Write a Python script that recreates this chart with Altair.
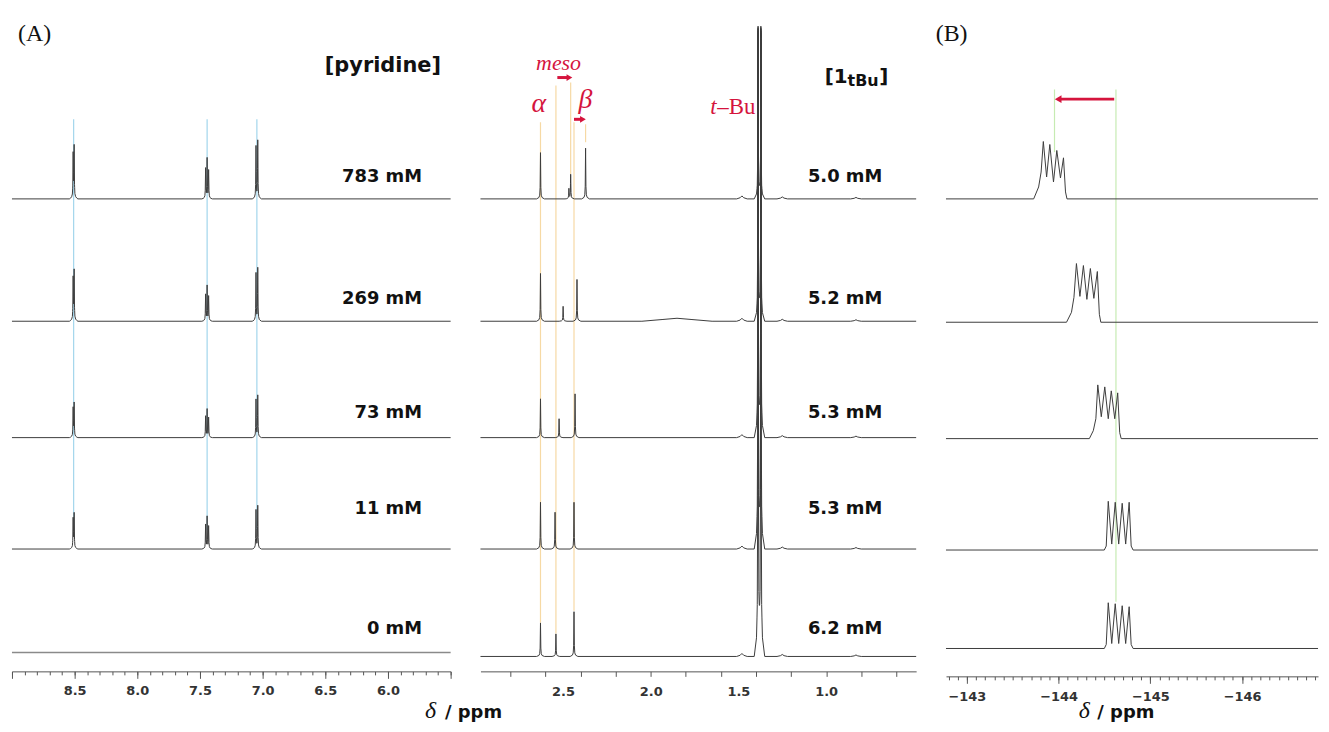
import altair as alt
import numpy as np
import pandas as pd

# ---------------- data ----------------
# Panel (A), left: pyridine 1H signals
pyr_conc = ["783 mM", "269 mM", "73 mM", "11 mM", "0 mM"]
pyr_base = [475, 352, 235, 123, 19]
pyr_shift = [8.508, 7.443, 7.046]
pyr_height = [[52, 40, 58], [50, 35, 53], [34, 28, 42], [35, 32, 43], [0, 0, 0]]
pyr_fine_offset = [[-0.004, 0.004], [-0.012, 0.0, 0.012], [-0.007, 0.007]]
pyr_fine_rel = [[1.0, 0.85], [0.7, 1.0, 0.75], [1.0, 0.9]]
pyr_guide_top = 555
pyr_guide_bottom = 142

# Panel (A), right: 1tBu signals
tbu_conc = ["5.0 mM", "5.2 mM", "5.3 mM", "5.3 mM", "6.2 mM"]
tbu_base = [475, 352, 235, 123, 15]
alpha_shift = [2.628, 2.628, 2.628, 2.628, 2.628]
alpha_height = [46.5, 48, 39, 47, 33.7]
meso_shift = [2.456, 2.499, 2.522, 2.545, 2.540]
meso_height = [24.5, 15, 19, 37, 22.7]
beta_shift = [2.371, 2.420, 2.431, 2.437, 2.437]
beta_height = [51, 42, 44, 47, 45]
tbu_shift = [1.388, 1.372]
tbu_top = 640
minor_shift = [2.466, 1.48, 1.25, 0.83]
minor_height = [[10, 3, 2, 1.5], [0, 3, 2, 1.5], [0, 3, 2, 1.5], [0, 3, 2, 1.5], [0, 3, 2, 1.5]]
hump_shift = [1.85]
hump_height = [[0], [3], [0], [0], [0]]
# orange guides: (shift, top, bottom)
orange_x = [2.628, 2.540, 2.437, 2.456, 2.371]
orange_top = [552, 589, 552, 592, 550]
orange_bottom = [49, 38, 61, 500, 532]

# Panel (B): 19F signals, vertices (shift, height above baseline)
f_base = [475, 351, 234, 122, 23]
f_shift = [
    [-143.728, -143.782, -143.809, -143.833, -143.869, -143.904, -143.944, -143.980, -144.020, -144.053, -144.075, -144.091],
    [-144.086, -144.140, -144.167, -144.194, -144.232, -144.270, -144.308, -144.346, -144.384, -144.422, -144.444, -144.460],
    [-144.335, -144.378, -144.406, -144.427, -144.465, -144.503, -144.541, -144.574, -144.612, -144.644, -144.666, -144.682],
    [-144.498, -144.519, -144.541, -144.579, -144.617, -144.655, -144.693, -144.731, -144.769, -144.791, -144.812],
    [-144.498, -144.519, -144.541, -144.579, -144.617, -144.655, -144.693, -144.731, -144.769, -144.791, -144.812],
]
f_height = [
    [0, 12, 27, 57.7, 22, 54.7, 17, 48.7, 21, 41.3, 7, 0],
    [0, 10, 25, 59, 26, 57, 23, 54, 24, 51, 8, 0],
    [0, 8, 20, 54, 22, 52, 20, 48, 20, 46, 6, 0],
    [0, 4, 49, 6, 48, 6, 47, 6, 48, 4, 0],
    [0, 4, 46, 5, 45, 5, 43, 5, 42, 4, 0],
]
green_x = [-143.955, -144.625]
green_top = [585, 585]
green_bottom = [522, 70]

# tick labels
pyr_tick_labels = [8.5, 8.0, 7.5, 7.0, 6.5, 6.0]
tbu_tick_labels = [2.5, 2.0, 1.5, 1.0]
f_tick_labels = [-143, -144, -145, -146]

# ---------------- styles ----------------
LINE = "#3c3c3c"
RED = "#d5143d"
BLUE = "#a2d6ec"
ORANGE = "#f6d9a4"
GREEN = "#c6ebb2"
SANS = "DejaVu Sans"
SERIF = "Liberation Serif"
H = 664

# lineshape templates (offset in ppm, fraction of height)
prof_a1 = ([-0.03, -0.012, -0.006, -0.003, 0, 0.003, 0.006, 0.012, 0.03],
           [0, 0.03, 0.08, 0.25, 1, 0.25, 0.08, 0.03, 0])
prof_a2 = ([-0.022, -0.009, -0.0045, -0.002, 0, 0.002, 0.0045, 0.009, 0.022],
           [0, 0.03, 0.08, 0.25, 1, 0.25, 0.08, 0.03, 0])
prof_minor = ([-0.03, -0.01, 0, 0.01, 0.03], [0, 0.4, 1, 0.4, 0])
prof_hump = ([-0.2, -0.08, 0, 0.08, 0.2], [0, 0.6, 1, 0.6, 0])


def build_line(peaks, base, lo, hi, sid):
    xs = {lo, hi}
    for p, h, prof in peaks:
        for o in prof[0]:
            xs.add(round(p + o, 5))
    xs = sorted(x for x in xs if lo <= x <= hi)
    rows = []
    for i, x in enumerate(xs):
        y = base
        for p, h, prof in peaks:
            y += h * float(np.interp(x - p, prof[0], prof[1], left=0, right=0))
        rows.append({"x": x, "y": y, "s": sid, "i": i})
    return rows


# ---------- panel A1 data ----------
A1_LO, A1_HI = 5.5, 9.0
rows = []
for k in range(5):
    peaks = []
    for j, p in enumerate(pyr_shift):
        for off, rel in zip(pyr_fine_offset[j], pyr_fine_rel[j]):
            if pyr_height[k][j] > 0:
                peaks.append((p + off, pyr_height[k][j] * rel, prof_a1))
    rows += build_line(peaks, pyr_base[k], A1_LO, A1_HI, k)
a1_lines = pd.DataFrame(rows)

# ---------- panel A2 data ----------
A2_LO, A2_HI = 0.487, 2.970
rows = []
for k in range(5):
    peaks = [(alpha_shift[k], alpha_height[k], prof_a2),
             (meso_shift[k], meso_height[k], prof_a2),
             (beta_shift[k], beta_height[k], prof_a2)]
    for t in tbu_shift:
        peaks.append((t, tbu_top - tbu_base[k], prof_a2))
    for m, mh in zip(minor_shift, minor_height[k]):
        if mh > 0:
            peaks.append((m, mh, prof_minor if m < 2.0 else prof_a2))
    for m, mh in zip(hump_shift, hump_height[k]):
        if mh > 0:
            peaks.append((m, mh, prof_hump))
    rows += build_line(peaks, tbu_base[k], A2_LO, A2_HI, k)
a2_lines = pd.DataFrame(rows)

# ---------- panel B data ----------
B_LO, B_HI = -146.828, -142.772
rows = []
for k in range(5):
    pts = [(B_HI, 0)] + list(zip(f_shift[k], f_height[k])) + [(B_LO, 0)]
    for i, (x, h) in enumerate(pts):
        rows.append({"x": x, "y": f_base[k] + h, "s": k, "i": i})
b_lines = pd.DataFrame(rows)


# ---------------- helpers ----------------
AXIS_BASE = dict(title=None, grid=False, orient="bottom", labelFont=SANS, labelFontWeight="bold",
                 labelFontSize=13, labelColor="#333333", labelOverlap=False, labelFlush=False,
                 domainColor="#555555", domainWidth=1, tickColor="#555555", tickWidth=1)


def minor_axis(values, size, offset=0):
    return alt.Axis(values=values, tickSize=size, labels=False, domain=True, ticks=True, offset=offset,
                    **AXIS_BASE)


def major_axis(values, size, fmt, offset=0, pad=6, ticks=True, labels=True):
    return alt.Axis(values=values, tickSize=size, labels=labels, domain=False, ticks=ticks, format=fmt,
                    labelPadding=pad, offset=offset, **AXIS_BASE)


yscale = alt.Scale(domain=[0, H])
Y = alt.Y("y:Q", scale=yscale, axis=None)


def X(scale, ax=None):
    return alt.X("x:Q", scale=scale, axis=ax)


def text_layer(df, xs, font, size, weight="normal", style="normal", align="left", baseline="middle",
               color="#111111", ax=None):
    return alt.Chart(df).mark_text(font=font, fontSize=size, fontWeight=weight, fontStyle=style,
                                   align=align, baseline=baseline, color=color).encode(
        x=X(xs, ax), y=Y, text="t:N")


def rules(xs_scale, xv, top, bottom, color, width=1.2):
    df = pd.DataFrame({"x": xv, "y": top, "y2": bottom})
    return alt.Chart(df).mark_rule(color=color, strokeWidth=width).encode(
        x=X(xs_scale), y=Y, y2="y2:Q")


def spectra(df, xs_scale, ax, color=LINE, width=1.0):
    return alt.Chart(df).mark_line(color=color, strokeWidth=width).encode(
        x=X(xs_scale, ax), y=Y, detail="s:N", order="i:Q")


# ---------------- panel A1 ----------------
xs1 = alt.Scale(domain=[A1_LO, A1_HI], reverse=True, nice=False, zero=False)
ticks1_minor = [round(5.5 + 0.1 * i, 1) for i in range(36)]
a1_main = spectra(a1_lines[a1_lines.s < 4], xs1, minor_axis(ticks1_minor, 3.5))
a1_zero = spectra(a1_lines[a1_lines.s == 4], xs1, None, color="#8a8a8a", width=1.6)
a1_guides = rules(xs1, pyr_shift, [pyr_guide_top] * 3, [pyr_guide_bottom] * 3, BLUE)
conc1 = pd.DataFrame({"x": [5.728] * 5, "y": [497, 374, 260, 163, 43], "t": pyr_conc})
a1_conc = text_layer(conc1, xs1, SANS, 18, weight="bold", align="right",
                     ax=major_axis([A1_HI, A1_LO], 7, ".1f", labels=False))
a1_head = text_layer(pd.DataFrame({"x": [5.577], "y": [608.5], "t": ["[pyridine]"]}), xs1, SANS, 21,
                     weight="bold", align="right")
a1_tag = text_layer(pd.DataFrame({"x": [8.952], "y": [641], "t": ["(A)"]}), xs1, SERIF, 24,
                    ax=major_axis(pyr_tick_labels, 7, ".1f"))
a1_delta = text_layer(pd.DataFrame({"x": [5.66], "y": [-47], "t": ["δ"]}), xs1, SERIF, 24,
                      style="italic", align="center", baseline="alphabetic")
a1_ppm = text_layer(pd.DataFrame({"x": [5.545], "y": [-47], "t": ["/ ppm"]}), xs1, SANS, 18,
                    weight="bold", baseline="alphabetic")
a1 = alt.layer(a1_guides, a1_main, a1_zero, a1_conc, a1_head, a1_tag, a1_delta, a1_ppm).resolve_axis(
    x="independent").properties(width=441, height=H)

# ---------------- panel A2 ----------------
xs2 = alt.Scale(domain=[A2_LO, A2_HI], reverse=True, nice=False, zero=False)
ticks2 = [round(0.6 + 0.2 * i, 1) for i in range(12)]
a2_main = spectra(a2_lines, xs2, minor_axis(ticks2, 5))
a2_guides = rules(xs2, orange_x, orange_top, orange_bottom, ORANGE)
arrows2 = pd.DataFrame({"x": [2.532, 2.437], "y": [597, 555], "x2": [2.472, 2.395]})
a2_arrow = alt.Chart(arrows2).mark_rule(color=RED, strokeWidth=3).encode(x=X(xs2), x2="x2:Q", y=Y)
heads2 = pd.DataFrame({"x": [2.463, 2.386], "y": [597, 555]})
a2_heads = alt.Chart(heads2).mark_point(shape="triangle-right", filled=True, color=RED, size=45,
                                        opacity=1).encode(x=X(xs2), y=Y)
conc2 = pd.DataFrame({"x": [0.68] * 5, "y": [497, 374, 260, 163, 43], "t": tbu_conc})
a2_conc = text_layer(conc2, xs2, SANS, 18, weight="bold", align="right",
                     ax=major_axis(tbu_tick_labels, 5, ".1f", pad=14, ticks=False))
a2_meso = text_layer(pd.DataFrame({"x": [2.525], "y": [605], "t": ["meso"]}), xs2, SERIF, 22,
                     style="italic", align="center", baseline="alphabetic", color=RED)
a2_greek = text_layer(pd.DataFrame({"x": [2.638, 2.372], "y": [562, 566], "t": ["α", "β"]}), xs2, SERIF, 28,
                      style="italic", align="center", baseline="alphabetic", color=RED)
a2_t = text_layer(pd.DataFrame({"x": [1.660], "y": [560], "t": ["t"]}), xs2, SERIF, 23,
                  style="italic", baseline="alphabetic", color=RED)
a2_bu = text_layer(pd.DataFrame({"x": [1.620], "y": [560], "t": ["–Bu"]}), xs2, SERIF, 23,
                   baseline="alphabetic", color=RED)
a2_h1 = text_layer(pd.DataFrame({"x": [1.0085, 0.697], "y": [592, 592], "t": ["[1", "]"]}), xs2, SANS, 20,
                   weight="bold", baseline="alphabetic")
a2_h2 = text_layer(pd.DataFrame({"x": [0.878], "y": [589], "t": ["tBu"]}), xs2, SANS, 16,
                   weight="bold", baseline="alphabetic")
a2 = alt.layer(a2_guides, a2_main, a2_arrow, a2_heads, a2_conc, a2_meso, a2_greek, a2_t, a2_bu,
               a2_h1, a2_h2).resolve_axis(x="independent").properties(width=438, height=H)

# ---------------- panel B ----------------
xs3 = alt.Scale(domain=[B_LO, B_HI], reverse=True, nice=False, zero=False)
ticks3 = [round(-142.8 - 0.1 * i, 1) for i in range(41)]
b_main = spectra(b_lines, xs3, minor_axis(ticks3, 3.5, offset=5))
b_guides = rules(xs3, green_x, green_top, green_bottom, GREEN)
b_arrow = alt.Chart(pd.DataFrame({"x": [-144.606], "x2": [-144.02], "y": [575.3]})).mark_rule(
    color=RED, strokeWidth=3).encode(x=X(xs3), x2="x2:Q", y=Y)
b_head = alt.Chart(pd.DataFrame({"x": [-143.995], "y": [575.3]})).mark_point(
    shape="triangle-left", filled=True, color=RED, size=60, opacity=1).encode(x=X(xs3), y=Y)
b_tag = text_layer(pd.DataFrame({"x": [-142.66], "y": [641], "t": ["(B)"]}), xs3, SERIF, 24,
                   ax=major_axis(f_tick_labels, 7, "d", offset=5, pad=7))
b_delta = text_layer(pd.DataFrame({"x": [-144.281], "y": [-47], "t": ["δ"]}), xs3, SERIF, 24,
                     style="italic", align="center", baseline="alphabetic")
b_ppm = text_layer(pd.DataFrame({"x": [-144.422], "y": [-47], "t": ["/ ppm"]}), xs3, SANS, 18,
                   weight="bold", baseline="alphabetic")
b = alt.layer(b_guides, b_main, b_arrow, b_head, b_tag, b_delta, b_ppm).resolve_axis(
    x="independent").properties(width=374, height=H)

chart = alt.hconcat(a1, a2, b, spacing=30, bounds="flush").properties(
    padding={"left": 0, "top": 0, "right": 0, "bottom": 0}
).configure_view(stroke="transparent")

chart.save("out.html", embed_options={"renderer": "svg", "actions": False})
